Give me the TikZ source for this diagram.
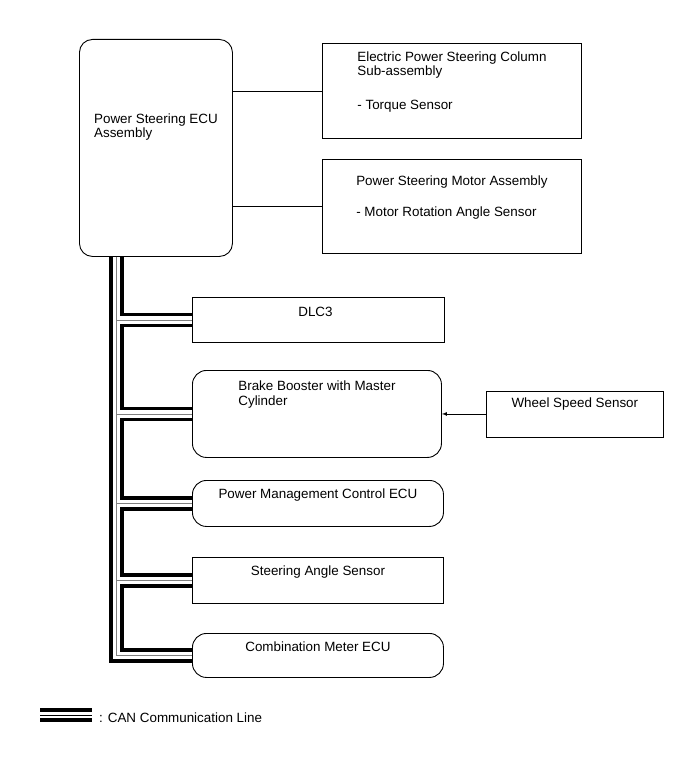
\documentclass[tikz,border=0pt]{standalone}
\usepackage{fontspec}
\setmainfont{Liberation Sans}
\usetikzlibrary{positioning, arrows}

\tikzset{
  box/.style={draw, line width=0.9pt, anchor=north west, inner sep=0pt},
  rbox/.style={box, rounded corners=14pt},
  lbl/.style={anchor=base, inner sep=0pt, align=left, font=\fontsize{13.4}{14.5}\selectfont},
  can/.style={line width=3.4pt},
  canmid/.style={line width=0.9pt, gray},
}

\begin{document}
\begin{tikzpicture}[x=1pt, y=1pt, node distance=44pt]
        \useasboundingbox (0,0) rectangle (691,-757);

        % ECU and the two parts on its right
        \node[rbox, rounded corners=13pt, minimum width=153pt, minimum height=217pt] (ecu) at (79,-39) {};
        \node[lbl] at ([yshift=-99pt]ecu.north) {Power Steering ECU\\Assembly};

        \node[box, minimum width=259pt, minimum height=95pt] (col) at (322,-43) {};
        \node[lbl] at ([yshift=-67pt]col.north) {Electric Power Steering Column\\Sub-assembly\\[19.5pt]- Torque Sensor};
        \node[box, minimum width=259pt, minimum height=94pt] (mot) at (322,-159) {};
        \node[lbl] at ([yshift=-57pt]mot.north) {Power Steering Motor Assembly\\[16.5pt]- Motor Rotation Angle Sensor};

        \draw[line width=0.7pt] (ecu.east |- col.west) -- (col.west);
        \draw[line width=0.7pt] (ecu.east |- mot.west) -- (mot.west);

        % units on the CAN line
        \node[box, minimum width=252pt, minimum height=45pt] (dlc) at (192,-297) {};
        \node[lbl] at ([xshift=-3pt, yshift=-19pt]dlc.north) {DLC3};
        \node[rbox, minimum width=249pt, minimum height=87pt] (brk) at (192,-370) {};
        \node[lbl] at ([yshift=-35pt]brk.north) {Brake Booster with Master\\Cylinder};
        \node[box, anchor=west, minimum width=177pt, minimum height=46pt] (wss) [right = of brk] {};
        \node[lbl] at ([yshift=-17pt]wss.north) {Wheel Speed Sensor};
        \node[rbox, minimum width=251pt, minimum height=46pt] (pmc) at (192,-480) {};
        \node[lbl] at ([yshift=-18pt]pmc.north) {Power Management Control ECU};
        \node[box, minimum width=251pt, minimum height=46pt] (sas) at (192,-557) {};
        \node[lbl] at ([yshift=-18pt]sas.north) {Steering Angle Sensor};
        \node[rbox, minimum width=251pt, minimum height=44pt] (cmb) at (192,-633) {};
        \node[lbl] at ([yshift=-18pt]cmb.north) {Combination Meter ECU};

        \draw[->, >=latex, line width=0.7pt] (wss) -- (brk);

        % CAN line
        \coordinate (tapO) at ([xshift=-45pt]ecu.south);
        \coordinate (tapM) at ([xshift=-39.5pt]ecu.south);
        \coordinate (tapI) at ([xshift=-34pt]ecu.south);
        \foreach \n in {dlc, brk, pmc, sas, cmb} {
            \coordinate (\n-i) at ([yshift=5.5pt]\n.west);
            \coordinate (\n-o) at ([yshift=-5.5pt]\n.west);
        }
        \draw[can] (tapO) |- (cmb-o);
        \draw[canmid] (tapM) |- (cmb.west);
        \foreach \n in {dlc, brk, pmc, sas}
            \draw[canmid] (tapM |- \n.west) -- (\n.west);
        \draw[can] (tapI) |- (dlc-i);
        \foreach \a/\b in {dlc/brk, brk/pmc, pmc/sas, sas/cmb}
            \draw[can] (\a-o) -| (tapI |- \b-i) -- (\b-i);

        % legend
        \coordinate (legA) at (40,-715);
        \coordinate (legB) at (92,-715);
        \draw[can] ([yshift=5pt]legA) -- ([yshift=5pt]legB);
        \draw[canmid, black] (legA) -- (legB);
        \draw[can] ([yshift=-5pt]legA) -- ([yshift=-5pt]legB);
        \node[lbl, anchor=base west] (leg) at (99,-722) {: CAN Communication Line};
\end{tikzpicture}
\end{document}
